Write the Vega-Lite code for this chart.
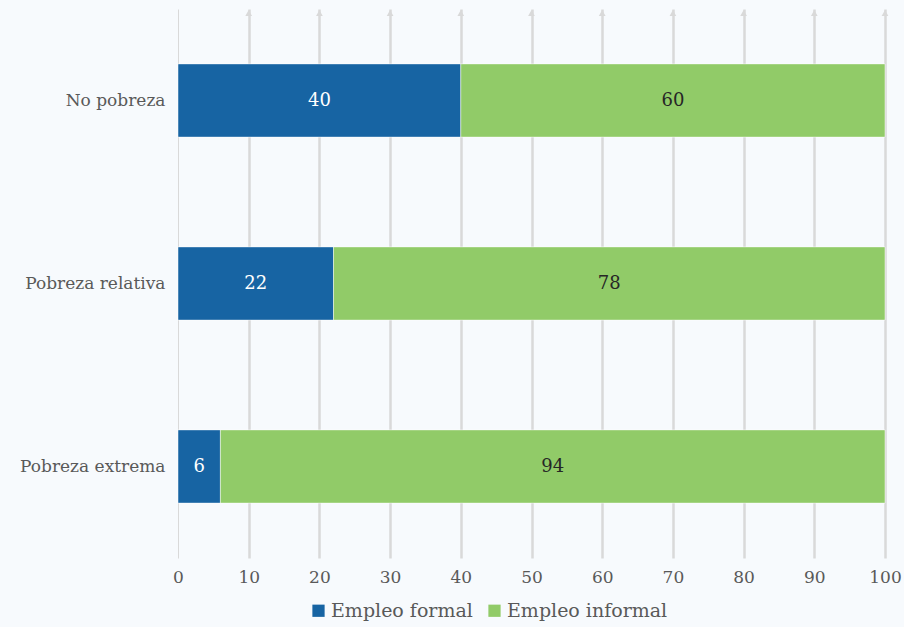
{
  "$schema": "https://vega.github.io/schema/vega-lite/v6.json",
  "autosize": {"type": "none"},
  "width": 707,
  "height": 549,
  "padding": {"left": 178, "top": 9, "right": 19, "bottom": 69},
  "background": "#f7fafd",
  "config": {
    "view": {"stroke": null},
    "font": "DejaVu Serif",
    "axis": {"labelFont": "DejaVu Serif", "labelColor": "#595959"},
    "legend": {"labelFont": "DejaVu Serif"}
  },
  "datasets": {
    "bars": [
      {"grupo": "No pobreza", "tipo": "Empleo formal", "orden": 1, "valor": 40},
      {"grupo": "No pobreza", "tipo": "Empleo informal", "orden": 2, "valor": 60},
      {"grupo": "Pobreza relativa", "tipo": "Empleo formal", "orden": 1, "valor": 22},
      {"grupo": "Pobreza relativa", "tipo": "Empleo informal", "orden": 2, "valor": 78},
      {"grupo": "Pobreza extrema", "tipo": "Empleo formal", "orden": 1, "valor": 6},
      {"grupo": "Pobreza extrema", "tipo": "Empleo informal", "orden": 2, "valor": 94}
    ],
    "ticks": [
      {"t": 10}, {"t": 20}, {"t": 30}, {"t": 40}, {"t": 50},
      {"t": 60}, {"t": 70}, {"t": 80}, {"t": 90}, {"t": 100}
    ]
  },
  "layer": [
    {
      "data": {"name": "ticks"},
      "mark": {"type": "point", "shape": "triangle-up", "filled": true, "color": "#d9d9d9", "opacity": 1, "size": 45},
      "encoding": {
        "x": {"field": "t", "type": "quantitative", "scale": {"domain": [0, 100]}},
        "y": {"value": 4}
      }
    },
    {
      "data": {"name": "bars"},
      "transform": [
        {"stack": "valor", "groupby": ["grupo"], "sort": [{"field": "orden"}], "as": ["x0", "x1"]},
        {"calculate": "(datum.x0 + datum.x1) / 2", "as": "xm"}
      ],
      "encoding": {
        "y": {
          "field": "grupo", "type": "nominal",
          "sort": ["No pobreza", "Pobreza relativa", "Pobreza extrema"],
          "scale": {"paddingInner": 0.6, "paddingOuter": 0.3},
          "axis": {"title": null, "ticks": false, "domain": false, "labelPadding": 13, "labelFontSize": 17}
        }
      },
      "layer": [
        {
          "mark": {"type": "bar", "stroke": "#ffffff", "strokeWidth": 0.8, "strokeOpacity": 0.6},
          "encoding": {
            "x": {
              "field": "x0", "type": "quantitative",
              "scale": {"domain": [0, 100], "nice": false},
              "axis": {
                "title": null, "values": [0, 10, 20, 30, 40, 50, 60, 70, 80, 90, 100],
                "domain": false, "ticks": false, "labelPadding": 11, "labelFontSize": 17,
                "labelFlush": false,
                "grid": true, "gridColor": "#d9d9d9",
                "gridWidth": {"condition": {"test": "datum.value === 0", "value": 1}, "value": 2.5}
              }
            },
            "x2": {"field": "x1"},
            "color": {
              "field": "tipo", "type": "nominal",
              "scale": {"domain": ["Empleo formal", "Empleo informal"], "range": ["#1764a3", "#91cb68"]},
              "legend": {
                "title": null, "orient": "none", "direction": "horizontal",
                "legendX": 131, "legendY": 592, "labelLimit": 400,
                "symbolType": "square", "symbolSize": 150, "symbolStrokeWidth": 0,
                "labelFontSize": 19, "labelColor": "#595959", "columnPadding": 12, "labelOffset": 3
              }
            }
          }
        },
        {
          "mark": {"type": "text", "fontSize": 18, "baseline": "middle", "align": "center"},
          "encoding": {
            "x": {"field": "xm", "type": "quantitative"},
            "text": {"field": "valor", "type": "quantitative"},
            "color": {
              "condition": {"test": "datum.tipo === 'Empleo formal'", "value": "#ffffff"},
              "value": "#262626"
            }
          }
        }
      ]
    }
  ]
}
